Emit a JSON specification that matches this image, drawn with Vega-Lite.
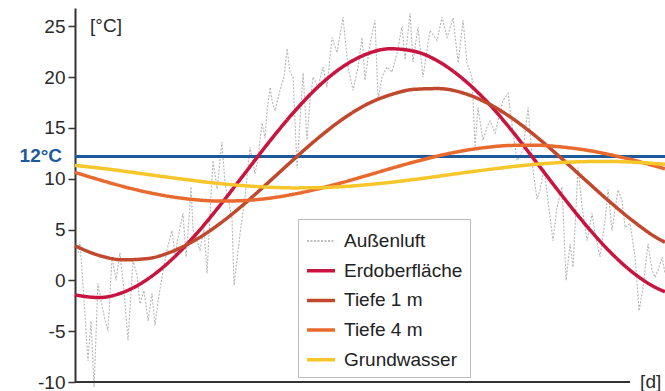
{
 "$schema": "https://vega.github.io/schema/vega-lite/v6.json",
 "width": 590,
 "height": 374,
 "autosize": {"type": "none"},
 "padding": {"left": 75, "top": 8, "right": 0, "bottom": 9},
 "background": "white",
 "config": {"view": {"stroke": null}, "font": "Liberation Sans"},
 "datasets": {
  "air": [
   {"d":1.9,"T":2.7},{"d":3.1,"T":3.8},{"d":5.6,"T":-2},{"d":8.0,"T":-7.9},{"d":9.9,"T":-4},{"d":11.8,"T":-10.5},{"d":14.2,"T":-0.3},{"d":17.3,"T":-3},{"d":20.4,"T":-5},{"d":22.9,"T":2.3},{"d":25.4,"T":0},{"d":27.8,"T":2.7},{"d":30.3,"T":-1},{"d":32.8,"T":-5.9},{"d":35.9,"T":2},{"d":38.4,"T":0.5},{"d":40.2,"T":-2.3},{"d":42.7,"T":-1},{"d":45.2,"T":-4},{"d":47.6,"T":-1.3},{"d":49.5,"T":-4.4},{"d":51.4,"T":-2},{"d":53.8,"T":0.3},{"d":56.9,"T":3},{"d":60.0,"T":4.9},{"d":61.9,"T":2.5},{"d":63.7,"T":4.2},{"d":66.8,"T":6.6},{"d":68.7,"T":2.3},{"d":70.5,"T":6},{"d":71.8,"T":9.2},{"d":73.0,"T":5},{"d":74.2,"T":4.5},{"d":77.3,"T":3},{"d":79.8,"T":5},{"d":81.7,"T":0.7},{"d":83.5,"T":6.5},{"d":85.4,"T":11.8},{"d":87.9,"T":9},{"d":90.9,"T":13.6},{"d":92.8,"T":9.5},{"d":94.7,"T":8},{"d":97.1,"T":6.2},{"d":98.4,"T":-0.5},{"d":100.2,"T":2},{"d":102.1,"T":4.6},{"d":105.2,"T":8.2},{"d":108.3,"T":13.1},{"d":111.4,"T":10.5},{"d":113.2,"T":12},{"d":115.7,"T":15.5},{"d":117.6,"T":14},{"d":118.8,"T":16.7},{"d":120.7,"T":19},{"d":121.9,"T":17.7},{"d":123.7,"T":16.7},{"d":126.8,"T":18.7},{"d":129.3,"T":20},{"d":131.2,"T":22.8},{"d":133.0,"T":20.5},{"d":134.9,"T":20},{"d":137.4,"T":11},{"d":139.2,"T":15.7},{"d":141.1,"T":20.4},{"d":143.5,"T":13.8},{"d":145.4,"T":17.7},{"d":147.3,"T":20},{"d":150.3,"T":19},{"d":153.4,"T":21},{"d":155.9,"T":19},{"d":159.0,"T":23.9},{"d":162.1,"T":22.4},{"d":165.8,"T":25.9},{"d":168.9,"T":21},{"d":172.0,"T":18.7},{"d":175.1,"T":21},{"d":177.6,"T":23.9},{"d":179.4,"T":19.7},{"d":182.5,"T":23.3},{"d":185.6,"T":25.6},{"d":187.5,"T":17.8},{"d":189.9,"T":20},{"d":193.0,"T":21},{"d":196.1,"T":20.5},{"d":199.2,"T":22.3},{"d":202.3,"T":25},{"d":204.2,"T":21.7},{"d":207.3,"T":26.3},{"d":209.1,"T":21.5},{"d":212.2,"T":24.9},{"d":215.3,"T":20},{"d":219.6,"T":24.6},{"d":224.0,"T":23.6},{"d":227.1,"T":25.9},{"d":230.2,"T":23.9},{"d":233.9,"T":25.8},{"d":237.0,"T":21.4},{"d":240.1,"T":25.6},{"d":242.5,"T":21.4},{"d":245.6,"T":20},{"d":247.5,"T":13.1},{"d":249.3,"T":17},{"d":252.4,"T":13.8},{"d":254.9,"T":15.1},{"d":256.8,"T":15.7},{"d":259.9,"T":14.5},{"d":264.8,"T":17.7},{"d":267.9,"T":18.4},{"d":271.0,"T":14.5},{"d":273.5,"T":11.8},{"d":277.2,"T":12.8},{"d":280.3,"T":17},{"d":283.4,"T":10.8},{"d":285.8,"T":8},{"d":287.7,"T":8.9},{"d":290.2,"T":11},{"d":292.6,"T":7.9},{"d":295.7,"T":3.9},{"d":298.2,"T":7.2},{"d":301.3,"T":9.2},{"d":303.8,"T":0},{"d":306.3,"T":3.6},{"d":308.1,"T":1.3},{"d":311.2,"T":11.1},{"d":313.7,"T":7.2},{"d":316.8,"T":3.9},{"d":319.9,"T":6.6},{"d":321.7,"T":4.6},{"d":324.8,"T":2.3},{"d":327.9,"T":5.9},{"d":329.8,"T":8.9},{"d":332.2,"T":4.9},{"d":335.9,"T":8.9},{"d":338.4,"T":7.9},{"d":340.3,"T":5.2},{"d":343.4,"T":5.6},{"d":346.5,"T":2.3},{"d":349.0,"T":-3},{"d":351.4,"T":-0.7},{"d":354.5,"T":3.6},{"d":357.0,"T":1},{"d":358.8,"T":0.3},{"d":360.7,"T":1},{"d":363.2,"T":2.3},{"d":365.0,"T":0.7}
  ],
  "soil": [
   {"s":"Erdoberfläche","d":0,"T":-1.43},{"s":"Erdoberfläche","d":15,"T":-1.69},{"s":"Erdoberfläche","d":30,"T":-1.16},{"s":"Erdoberfläche","d":45,"T":0.13},{"s":"Erdoberfläche","d":60,"T":2.07},{"s":"Erdoberfläche","d":75,"T":4.56},{"s":"Erdoberfläche","d":90,"T":7.44},{"s":"Erdoberfläche","d":105,"T":10.51},{"s":"Erdoberfläche","d":120,"T":13.6},{"s":"Erdoberfläche","d":135,"T":16.48},{"s":"Erdoberfläche","d":150,"T":18.99},{"s":"Erdoberfläche","d":165,"T":20.95},{"s":"Erdoberfläche","d":180,"T":22.24},{"s":"Erdoberfläche","d":195,"T":22.79},{"s":"Erdoberfläche","d":210,"T":22.54},{"s":"Erdoberfläche","d":225,"T":21.53},{"s":"Erdoberfläche","d":240,"T":19.82},{"s":"Erdoberfläche","d":255,"T":17.56},{"s":"Erdoberfläche","d":270,"T":14.78},{"s":"Erdoberfläche","d":285,"T":11.71},{"s":"Erdoberfläche","d":300,"T":8.61},{"s":"Erdoberfläche","d":315,"T":5.64},{"s":"Erdoberfläche","d":330,"T":2.97},{"s":"Erdoberfläche","d":345,"T":0.79},{"s":"Erdoberfläche","d":360,"T":-0.77},{"s":"Erdoberfläche","d":365,"T":-1.12},
   {"s":"Tiefe 1 m","d":0,"T":3.4},{"s":"Tiefe 1 m","d":15,"T":2.45},{"s":"Tiefe 1 m","d":30,"T":2.02},{"s":"Tiefe 1 m","d":45,"T":2.15},{"s":"Tiefe 1 m","d":60,"T":2.84},{"s":"Tiefe 1 m","d":75,"T":4.02},{"s":"Tiefe 1 m","d":90,"T":5.63},{"s":"Tiefe 1 m","d":105,"T":7.56},{"s":"Tiefe 1 m","d":120,"T":9.69},{"s":"Tiefe 1 m","d":135,"T":11.86},{"s":"Tiefe 1 m","d":150,"T":13.95},{"s":"Tiefe 1 m","d":165,"T":15.8},{"s":"Tiefe 1 m","d":180,"T":17.28},{"s":"Tiefe 1 m","d":195,"T":18.25},{"s":"Tiefe 1 m","d":210,"T":18.8},{"s":"Tiefe 1 m","d":225,"T":18.87},{"s":"Tiefe 1 m","d":240,"T":18.44},{"s":"Tiefe 1 m","d":255,"T":17.45},{"s":"Tiefe 1 m","d":270,"T":16.0},{"s":"Tiefe 1 m","d":285,"T":14.19},{"s":"Tiefe 1 m","d":300,"T":12.14},{"s":"Tiefe 1 m","d":315,"T":9.98},{"s":"Tiefe 1 m","d":330,"T":7.85},{"s":"Tiefe 1 m","d":345,"T":5.87},{"s":"Tiefe 1 m","d":360,"T":4.18},{"s":"Tiefe 1 m","d":365,"T":3.75},
   {"s":"Tiefe 4 m","d":0,"T":10.62},{"s":"Tiefe 4 m","d":15,"T":9.9},{"s":"Tiefe 4 m","d":30,"T":9.23},{"s":"Tiefe 4 m","d":45,"T":8.66},{"s":"Tiefe 4 m","d":60,"T":8.22},{"s":"Tiefe 4 m","d":75,"T":7.93},{"s":"Tiefe 4 m","d":90,"T":7.8},{"s":"Tiefe 4 m","d":105,"T":7.86},{"s":"Tiefe 4 m","d":120,"T":8.08},{"s":"Tiefe 4 m","d":135,"T":8.47},{"s":"Tiefe 4 m","d":150,"T":8.99},{"s":"Tiefe 4 m","d":165,"T":9.61},{"s":"Tiefe 4 m","d":180,"T":10.29},{"s":"Tiefe 4 m","d":195,"T":10.99},{"s":"Tiefe 4 m","d":210,"T":11.66},{"s":"Tiefe 4 m","d":225,"T":12.26},{"s":"Tiefe 4 m","d":240,"T":12.75},{"s":"Tiefe 4 m","d":255,"T":13.09},{"s":"Tiefe 4 m","d":270,"T":13.28},{"s":"Tiefe 4 m","d":285,"T":13.3},{"s":"Tiefe 4 m","d":300,"T":13.14},{"s":"Tiefe 4 m","d":315,"T":12.85},{"s":"Tiefe 4 m","d":330,"T":12.4},{"s":"Tiefe 4 m","d":345,"T":11.85},{"s":"Tiefe 4 m","d":360,"T":11.2},{"s":"Tiefe 4 m","d":365,"T":10.98},
   {"s":"Grundwasser","d":0,"T":11.31},{"s":"Grundwasser","d":15,"T":11.05},{"s":"Grundwasser","d":30,"T":10.75},{"s":"Grundwasser","d":45,"T":10.42},{"s":"Grundwasser","d":60,"T":10.1},{"s":"Grundwasser","d":75,"T":9.79},{"s":"Grundwasser","d":90,"T":9.52},{"s":"Grundwasser","d":105,"T":9.31},{"s":"Grundwasser","d":120,"T":9.17},{"s":"Grundwasser","d":135,"T":9.1},{"s":"Grundwasser","d":150,"T":9.12},{"s":"Grundwasser","d":165,"T":9.22},{"s":"Grundwasser","d":180,"T":9.4},{"s":"Grundwasser","d":195,"T":9.64},{"s":"Grundwasser","d":210,"T":9.93},{"s":"Grundwasser","d":225,"T":10.25},{"s":"Grundwasser","d":240,"T":10.58},{"s":"Grundwasser","d":255,"T":10.89},{"s":"Grundwasser","d":270,"T":11.18},{"s":"Grundwasser","d":285,"T":11.42},{"s":"Grundwasser","d":300,"T":11.59},{"s":"Grundwasser","d":315,"T":11.68},{"s":"Grundwasser","d":330,"T":11.7},{"s":"Grundwasser","d":345,"T":11.63},{"s":"Grundwasser","d":360,"T":11.48},{"s":"Grundwasser","d":365,"T":11.42}
  ]
 },
 "encoding": {
  "x": {"field": "d", "type": "quantitative", "scale": {"domain": [0, 365], "nice": false, "zero": false}, "axis": null},
  "y": {"field": "T", "type": "quantitative", "scale": {"domain": [-10, 26.8], "nice": false, "zero": false},
        "axis": {"values": [-10, -5, 0, 5, 10, 15, 20, 25], "labelExpr": "datum.value", "title": null, "grid": false, "domainColor": "#333333", "domainWidth": 2, "tickColor": "#333333", "tickWidth": 1.5, "tickSize": 7, "labelFontSize": 19, "labelColor": "#2a2a2a", "labelPadding": 3, "labelFont": "Liberation Sans"}}
 },
 "layer": [
  {
   "data": {"name": "air"},
   "mark": {"type": "line", "strokeDash": [2, 1.5], "strokeWidth": 1.1, "color": "#a8a8a8", "opacity": 0.85},
   "encoding": {}
  },
  {
   "data": {"values": [{"d": 0, "d2": 365, "T": 12.2}]},
   "mark": {"type": "rule", "color": "#1d5a9c", "strokeWidth": 3},
   "encoding": {"x2": {"field": "d2"}}
  },
  {
   "data": {"name": "soil"},
   "mark": {"type": "line", "interpolate": "monotone"},
   "encoding": {
    "color": {"field": "s", "type": "nominal",
      "scale": {"domain": ["Außenluft", "Erdoberfläche", "Tiefe 1 m", "Tiefe 4 m", "Grundwasser"], "range": ["#a8a8a8", "#c8153f", "#c0482c", "#e96a2e", "#f6c62a"]},
      "legend": {"title": null, "orient": "none", "legendX": 223, "legendY": 211, "labelFontSize": 19, "labelFont": "Liberation Sans", "labelColor": "#222222", "symbolType": "stroke", "symbolSize": 784, "rowPadding": 3.7, "padding": 7, "strokeColor": "#bbbbbb", "fillColor": "white", "labelOffset": 7, "values": ["Außenluft", "Erdoberfläche", "Tiefe 1 m", "Tiefe 4 m", "Grundwasser"]}},
    "strokeWidth": {"field": "s", "type": "nominal",
      "scale": {"type": "ordinal", "domain": ["Außenluft", "Erdoberfläche", "Tiefe 1 m", "Tiefe 4 m", "Grundwasser"], "range": [1.3, 3.5, 3.5, 3.5, 3.5]},
      "legend": {"title": null, "orient": "none", "legendX": 223, "legendY": 211, "values": ["Außenluft", "Erdoberfläche", "Tiefe 1 m", "Tiefe 4 m", "Grundwasser"]}},
    "strokeDash": {"field": "s", "type": "nominal",
      "scale": {"domain": ["Außenluft", "Erdoberfläche", "Tiefe 1 m", "Tiefe 4 m", "Grundwasser"], "range": [[2, 1.5], [1, 0], [1, 0], [1, 0], [1, 0]]},
      "legend": {"title": null, "orient": "none", "legendX": 223, "legendY": 211, "values": ["Außenluft", "Erdoberfläche", "Tiefe 1 m", "Tiefe 4 m", "Grundwasser"]}}
   }
  },
  {
   "data": {"values": [{"d": 0, "d2": 343.4, "T": -10}]},
   "mark": {"type": "rule", "color": "#333333", "strokeWidth": 2},
   "encoding": {"x2": {"field": "d2"}}
  },
  {
   "data": {"values": [{"d": -8, "T": 12.2, "label": "12°C"}]},
   "mark": {"type": "text", "align": "right", "baseline": "middle", "fontSize": 19, "fontWeight": "bold", "color": "#1d5a9c", "font": "Liberation Sans"},
   "encoding": {"text": {"field": "label"}}
  },
  {
   "data": {"values": [{"d": 9.3, "T": 25, "label": "[°C]"}, {"d": 349.6, "T": -10, "label": "[d]"}]},
   "mark": {"type": "text", "align": "left", "baseline": "middle", "fontSize": 19, "color": "#2a2a2a", "font": "Liberation Sans"},
   "encoding": {"text": {"field": "label"}}
  }
 ]
}
